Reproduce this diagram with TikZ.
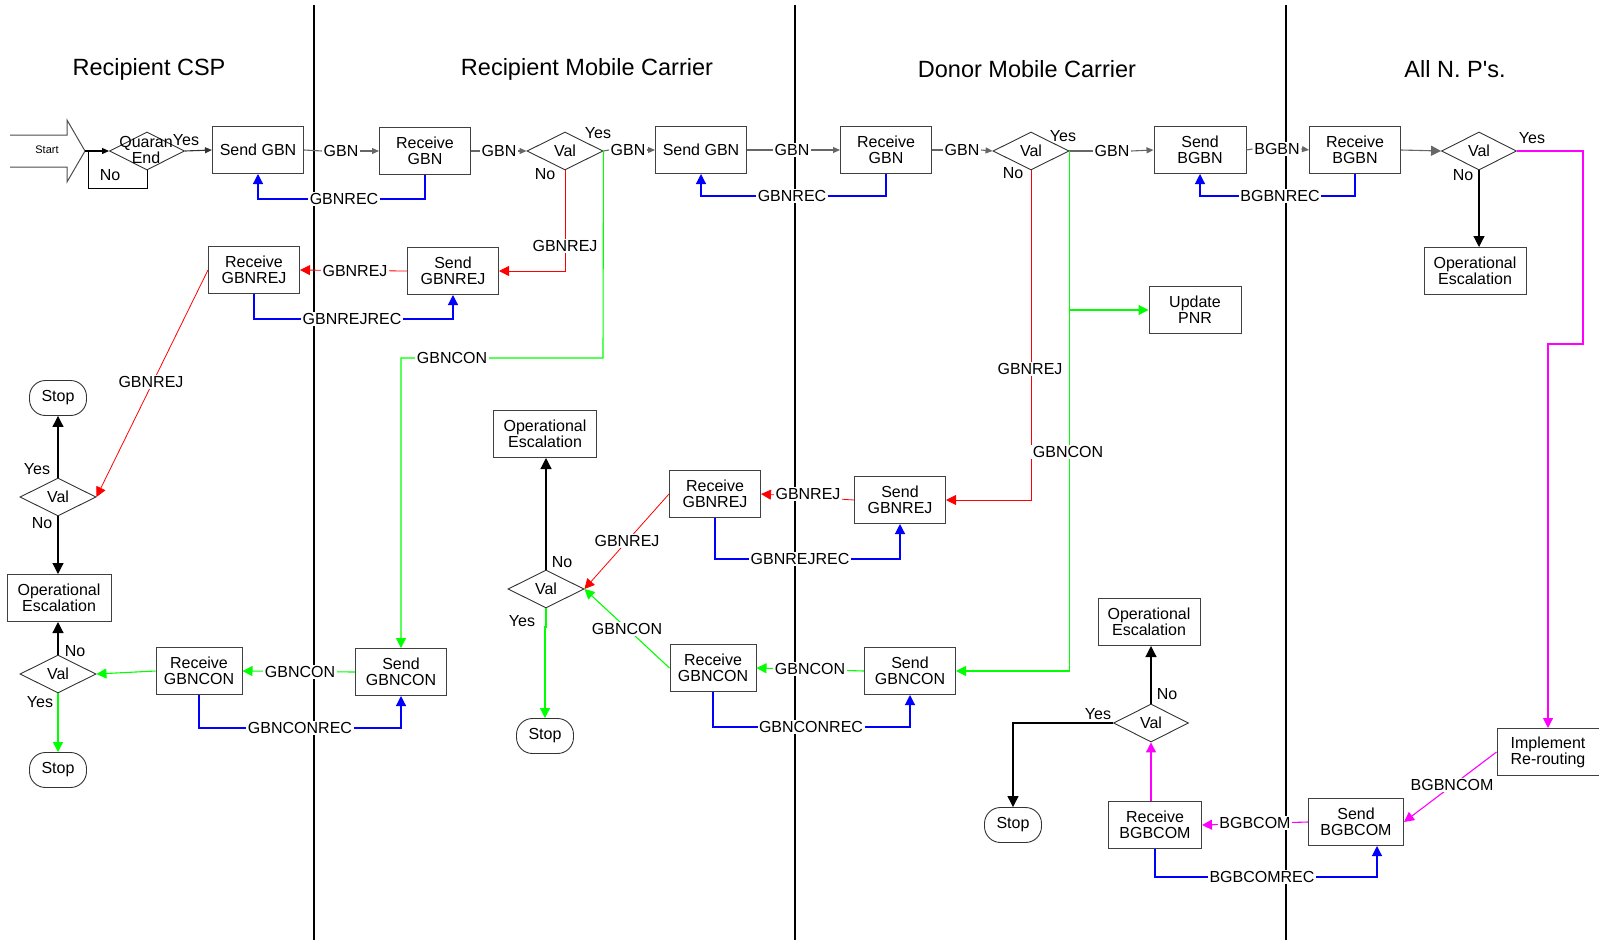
\documentclass[tikz,border=0pt]{standalone}
\usepackage{fontspec}
\setmainfont{Liberation Sans}
\usetikzlibrary{arrows.meta,shapes.geometric}
\definecolor{lgreen}{RGB}{0,255,0}
\definecolor{lmag}{RGB}{255,0,255}
\definecolor{lblue}{RGB}{0,0,255}
\definecolor{lred}{RGB}{255,0,0}
\begin{document}
\begin{tikzpicture}[x=1pt,y=-1pt,
  font=\fontsize{16}{16}\selectfont,
  box/.style={draw=black!75, line width=1pt, fill=white, align=center, inner sep=0pt,
              minimum width=91pt, minimum height=47pt},
  dia/.style={diamond, draw=black!80, line width=0.9pt, inner sep=0pt,
              minimum width=76pt, minimum height=38pt},
  term/.style={draw=black!80, line width=0.9pt, rounded corners=16pt,
               minimum width=57pt, minimum height=35pt, inner sep=0pt},
  lbl/.style={fill=white, inner sep=1.5pt},
  tag/.style={inner sep=0pt, align=center},
  title/.style={font=\fontsize{23.5}{26}\selectfont, inner sep=0pt},
  bigtip/.tip={Triangle[length=10pt,width=10pt]},
  smalltip/.tip={Triangle[length=7pt,width=6pt]},
  gline/.style={draw=black!60, line width=1.1pt, -smalltip},
  bline/.style={draw=lblue, line width=1.2pt, -bigtip},
  rline/.style={draw=lred, line width=0.8pt, -bigtip},
  grline/.style={draw=lgreen, line width=1.1pt, -bigtip},
  mline/.style={draw=lmag, line width=1.1pt, -bigtip},
  kline/.style={draw=black, line width=1.2pt, -{Triangle[length=11pt,width=11pt]}},
]
\useasboundingbox (0,0) rectangle (1599,940);

% lane dividers
\draw[line width=1.3pt] (314,5) -- (314,940);
\draw[line width=1.3pt] (795,5) -- (795,940);
\draw[line width=1.3pt] (1286,5) -- (1286,940);

% lane titles
\node[title] (t1) at (149,69) {Recipient CSP};
\node[title] (t2) at (587,69) {Recipient Mobile Carrier};
\node[title] (t3) at (1027,69) {Donor Mobile Carrier};
\node[title] (t4) at (1455,69) {All N. P\textquotesingle s.};

% start arrow
\draw[draw=black!70, line width=1pt] (10,135) -- (67,135) -- (67,120) -- (85,151) coordinate (starttip)
  -- (67,182) -- (67,167) -- (10,167);
\node[tag, font=\fontsize{11}{12}\selectfont] (start) at (47,150) {Start};

% process boxes and decisions
\node[dia, minimum width=75pt] (qe) at (147,151) {};
\node[tag] (qetext) at (146,150) {Quaran\\End};
\node[box] (sgbn1) at (258,150) {Send GBN};
\node[box] (rgbn1) at (425,151) {Receive\\GBN};
\node[dia] (v1) at (565,151) {Val};
\node[box] (sgbn2) at (701,150) {Send GBN};
\node[box] (rgbn2) at (886,150) {Receive\\GBN};
\node[dia] (v2) at (1031,151) {Val};
\node[box, minimum width=92pt] (sbgbn) at (1200,150) {Send\\BGBN};
\node[box] (rbgbn) at (1355,150) {Receive\\BGBN};
\node[dia, minimum width=75pt] (v3) at (1479,151) {Val};
\node[box, minimum width=102pt] (oe3) at (1475,271) {Operational\\Escalation};

\node[box] (rrej1) at (254,270) {Receive\\GBNREJ};
\node[box] (srej1) at (453,271) {Send\\GBNREJ};
\node[term] (stop1) at (58,398) {Stop};
\node[dia] (vl1) at (58,497) {Val};
\node[box, minimum width=104pt] (oel) at (59,598) {Operational\\Escalation};
\node[dia] (vl2) at (58,674) {Val};
\node[term] (stop2) at (58,770) {Stop};
\node[box, minimum width=86pt] (rcon1) at (199,671) {Receive\\GBNCON};
\node[box] (scon1) at (401,672) {Send\\GBNCON};

\node[box, minimum width=103pt] (oem) at (545,434) {Operational\\Escalation};
\node[dia] (vm) at (546,589) {Val};
\node[term] (stopm) at (545,736) {Stop};
\node[box] (rrej2) at (715,494) {Receive\\GBNREJ};
\node[box] (srej2) at (900,500) {Send\\GBNREJ};
\node[box, minimum width=86pt] (rcon2) at (713,668) {Receive\\GBNCON};
\node[box] (scon2) at (910,671) {Send\\GBNCON};
\node[box, minimum width=92pt] (pnr) at (1195,310) {Update\\PNR};

\node[box, minimum width=102pt] (oeb) at (1149,622) {Operational\\Escalation};
\node[dia, minimum width=75pt] (vb) at (1151,723) {Val};
\node[term] (stopb) at (1013,825) {Stop};
\node[box, minimum width=93pt] (rcom) at (1155,825) {Receive\\BGBCOM};
\node[box, minimum width=95pt] (scom) at (1356,822) {Send\\BGBCOM};
\node[box, minimum width=102pt] (impl) at (1548,752) {Implement\\Re-routing};

% message labels of the main row
\node[lbl] (l1) at (341,151) {GBN};
\node[lbl] (l2) at (499,151) {GBN};
\node[lbl] (l3) at (628,150) {GBN};
\node[lbl] (l4) at (792,150) {GBN};
\node[lbl] (l5) at (962,150) {GBN};
\node[lbl] (l6) at (1112,151) {GBN};
\node[lbl] (l7) at (1277,149) {BGBN};

% main row flow
\draw[draw=black, line width=1pt] (qe.south) -- (147,188) -- (88,188) -- (88,151);
\draw[gline, draw=black] (starttip) -- (qe.west);
\draw[gline, draw=black!80] (qe.east) -- (sgbn1.west);
\draw[gline, -] (sgbn1.east) -- (l1.west);
\draw[gline] (l1.east) -- (rgbn1.west);
\draw[gline, -] (rgbn1.east) -- (l2.west);
\draw[gline] (l2.east) -- (v1.west);
\draw[gline, -] (v1.east) -- (l3.west);
\draw[gline] (l3.east) -- (sgbn2.west);
\draw[gline, -] (sgbn2.east) -- (l4.west);
\draw[gline] (l4.east) -- (rgbn2.west);
\draw[gline, -] (rgbn2.east) -- (l5.west);
\draw[gline] (l5.east) -- (v2.west);
\draw[gline, -] (v2.east) -- (l6.west);
\draw[gline] (l6.east) -- (sbgbn.west);
\draw[gline, -] (sbgbn.east) -- (l7.west);
\draw[gline] (l7.east) -- (rbgbn.west);
\draw[gline, -bigtip] (rbgbn.east) -- (v3.west);

% receipts
\draw[bline] (rgbn1.south) |- (sgbn1.south |- 0,199) -- (sgbn1.south);
\draw[bline] (rgbn2.south) |- (sgbn2.south |- 0,196) -- (sgbn2.south);
\draw[bline] (rbgbn.south) |- (sbgbn.south |- 0,196) -- (sbgbn.south);
\draw[bline] (rrej1.south) |- (srej1.south |- 0,319) -- (srej1.south);
\draw[bline] (rcon1.south) |- (scon1.south |- 0,728) -- (scon1.south);
\draw[bline] (rrej2.south) |- (srej2.south |- 0,559) -- (srej2.south);
\draw[bline] (rcon2.south) |- (scon2.south |- 0,727) -- (scon2.south);
\draw[bline] (rcom.south) |- ([xshift=21pt]scom.south |- 0,877) -- ([xshift=21pt]scom.south);

% recipient carrier validation
\draw[rline] (v1.south) |- (srej1.east);
\draw[rline] (srej1.west) -- (rrej1.east);
\draw[rline] (rrej1.west) -- (vl1.east);
\draw[grline] (v1.east) -- (603,358) -| (scon1.north);
\draw[grline] (scon1.west) -- (rcon1.east);
\draw[grline] (rcon1.west) -- (vl2.east);
\draw[kline] (vl1.north) -- (stop1.south);
\draw[kline] (vl1.south) -- (vl1.south |- oel.north);
\draw[kline] (vl2.north) -- (vl2.north |- oel.south);
\draw[grline] (vl2.south) -- (stop2.north);

% donor carrier validation
\draw[rline] (v2.south) |- (srej2.east);
\draw[rline] (srej2.west) -- (rrej2.east);
\draw[rline] (rrej2.west) -- (vm.east);
\draw[grline] (v2.east) |- (scon2.east);
\draw[grline] (v2.east |- pnr.west) -- (pnr.west);
\draw[grline] (scon2.west) -- (rcon2.east);
\draw[grline] (rcon2.west) -- (vm.east);
\draw[kline] (vm.north) -- (vm.north |- oem.south);
\draw[grline] (vm.south) -- (546,627) -- (545,627) -- (stopm.north);

% all number portability participants
\draw[kline] (v3.south) -- (v3.south |- oe3.north);
\draw[mline] (v3.east) -- (1583,151) -- (1583,344) -| (impl.north);
\draw[mline] (impl.west) -- (scom.east);
\draw[mline] (scom.west) -- (rcom.east);
\draw[mline] (vb.south |- rcom.north) -- (vb.south);
\draw[kline] (vb.north) -- (vb.north |- oeb.south);
\draw[kline] (vb.west) -| (stopb.north);

% labels on connectors
\node[lbl] (b1) at (344,199) {GBNREC};
\node[lbl] (b2) at (792,196) {GBNREC};
\node[lbl] (b3) at (1280,196) {BGBNREC};
\node[lbl] (r1) at (565,246) {GBNREJ};
\node[lbl] (r2) at (355,271) {GBNREJ};
\node[lbl] (b4) at (352,319) {GBNREJREC};
\node[lbl] (g1) at (452,358) {GBNCON};
\node[lbl] (r3) at (151,382) {GBNREJ};
\node[lbl] (g2) at (300,672) {GBNCON};
\node[lbl] (b5) at (300,728) {GBNCONREC};
\node[lbl] (r4) at (1030,369) {GBNREJ};
\node[lbl] (g3) at (1068,452) {GBNCON};
\node[lbl] (r5) at (808,494) {GBNREJ};
\node[lbl] (b6) at (800,559) {GBNREJREC};
\node[lbl] (r6) at (627,541) {GBNREJ};
\node[lbl] (g4) at (627,629) {GBNCON};
\node[lbl] (g5) at (810,669) {GBNCON};
\node[lbl] (b7) at (811,727) {GBNCONREC};
\node[lbl] (m1) at (1452,785) {BGBNCOM};
\node[lbl] (m2) at (1255,823) {BGBCOM};
\node[lbl] (b8) at (1262,877) {BGBCOMREC};

% decision outcomes
\node[tag] (y0) at (186,140) {Yes};
\node[tag] (n0) at (110,175) {No};
\node[tag] (y1) at (598,133) {Yes};
\node[tag] (n1) at (545,174) {No};
\node[tag] (y2) at (1063,136) {Yes};
\node[tag] (n2) at (1013,173) {No};
\node[tag] (y3) at (1532,138) {Yes};
\node[tag] (n3) at (1463,175) {No};
\node[tag] (y4) at (37,469) {Yes};
\node[tag] (n4) at (42,523) {No};
\node[tag] (n5) at (75,651) {No};
\node[tag] (y5) at (40,702) {Yes};
\node[tag] (n6) at (562,562) {No};
\node[tag] (y6) at (522,621) {Yes};
\node[tag] (n7) at (1167,694) {No};
\node[tag] (y7) at (1098,714) {Yes};
\end{tikzpicture}
\end{document}
